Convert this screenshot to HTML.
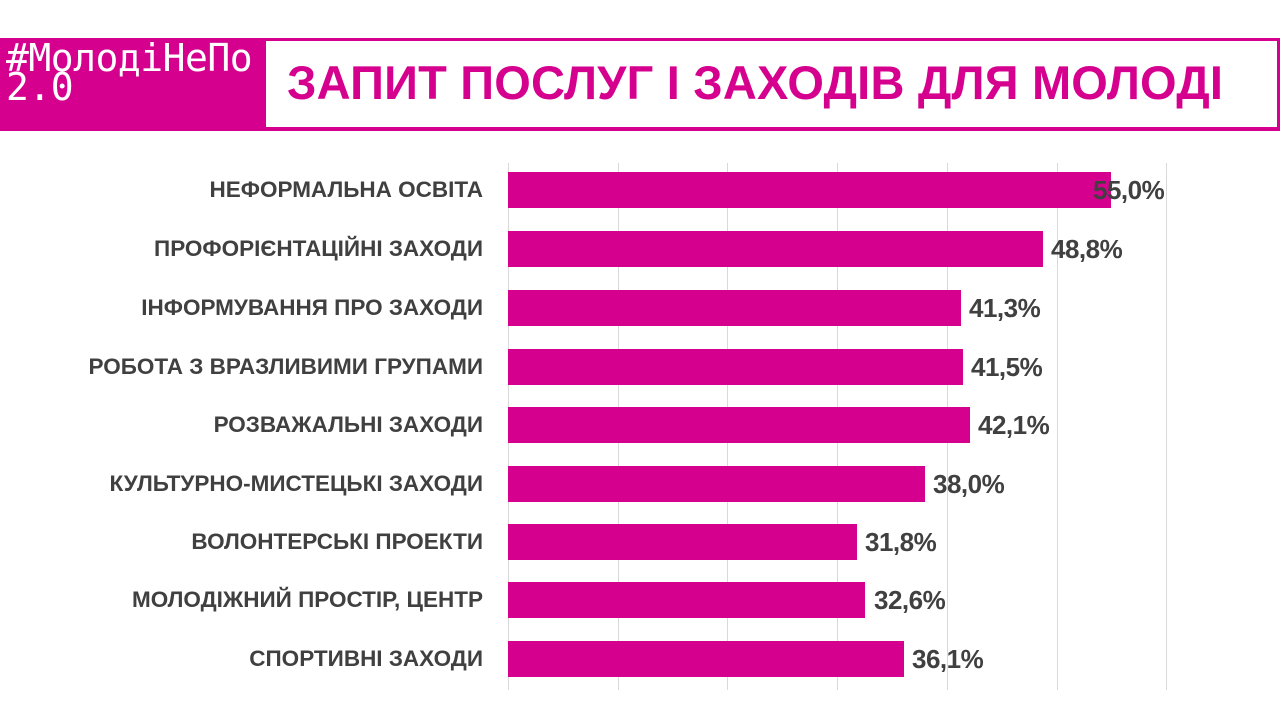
<!DOCTYPE html>
<html><head><meta charset="utf-8"><style>
body{margin:0;width:1280px;height:720px;background:#fff;position:relative;overflow:hidden;font-family:"Liberation Sans","DejaVu Sans",sans-serif}
.hdr{position:absolute;left:0;top:38px;width:1280px;height:93px;background:#d6008f}
.box{position:absolute;left:266px;top:41px;width:1011px;height:86px;background:#fff}
.title{position:absolute;left:287px;top:55px;font-size:47px;font-weight:bold;color:#d6008f;white-space:nowrap;letter-spacing:0.2px}
.logo{position:absolute;left:6px;top:44px;color:#fff;font-family:"DejaVu Sans Mono","Liberation Mono",monospace;font-size:38px;line-height:29px;letter-spacing:-0.5px}
.grid{position:absolute;top:163px;height:527px;width:1px;background:#d9d9d9}
.bar{position:absolute;left:508px;height:36px;background:#d6008f}
.lab{position:absolute;right:797px;font-size:22.5px;font-weight:bold;color:#404040;white-space:nowrap;text-align:right}
.val{position:absolute;font-size:26px;font-weight:bold;color:#404040;white-space:nowrap;letter-spacing:-0.5px}
</style></head><body>
<div class="hdr"></div><div class="box"></div>
<div class="logo">#МолодіНеПо<br>2.0</div>
<div class="title">ЗАПИТ ПОСЛУГ І ЗАХОДІВ ДЛЯ МОЛОДІ</div>
<div class="grid" style="left:508px"></div><div class="grid" style="left:618px"></div><div class="grid" style="left:727px"></div><div class="grid" style="left:837px"></div><div class="grid" style="left:947px"></div><div class="grid" style="left:1057px"></div><div class="grid" style="left:1166px"></div>
<div class="bar" style="top:172px;width:603px"></div><div class="lab" style="top:177px">НЕФОРМАЛЬНА ОСВІТА</div><div class="val" style="left:1093px;top:175px">55,0%</div>
<div class="bar" style="top:231px;width:535px"></div><div class="lab" style="top:236px">ПРОФОРІЄНТАЦІЙНІ ЗАХОДИ</div><div class="val" style="left:1051px;top:234px">48,8%</div>
<div class="bar" style="top:290px;width:453px"></div><div class="lab" style="top:295px">ІНФОРМУВАННЯ ПРО ЗАХОДИ</div><div class="val" style="left:969px;top:293px">41,3%</div>
<div class="bar" style="top:349px;width:455px"></div><div class="lab" style="top:354px">РОБОТА З ВРАЗЛИВИМИ ГРУПАМИ</div><div class="val" style="left:971px;top:352px">41,5%</div>
<div class="bar" style="top:407px;width:462px"></div><div class="lab" style="top:412px">РОЗВАЖАЛЬНІ ЗАХОДИ</div><div class="val" style="left:978px;top:410px">42,1%</div>
<div class="bar" style="top:466px;width:417px"></div><div class="lab" style="top:471px">КУЛЬТУРНО-МИСТЕЦЬКІ ЗАХОДИ</div><div class="val" style="left:933px;top:469px">38,0%</div>
<div class="bar" style="top:524px;width:349px"></div><div class="lab" style="top:529px">ВОЛОНТЕРСЬКІ ПРОЕКТИ</div><div class="val" style="left:865px;top:527px">31,8%</div>
<div class="bar" style="top:582px;width:357px"></div><div class="lab" style="top:587px">МОЛОДІЖНИЙ ПРОСТІР, ЦЕНТР</div><div class="val" style="left:874px;top:585px">32,6%</div>
<div class="bar" style="top:641px;width:396px"></div><div class="lab" style="top:646px">СПОРТИВНІ ЗАХОДИ</div><div class="val" style="left:912px;top:644px">36,1%</div>
</body></html>
